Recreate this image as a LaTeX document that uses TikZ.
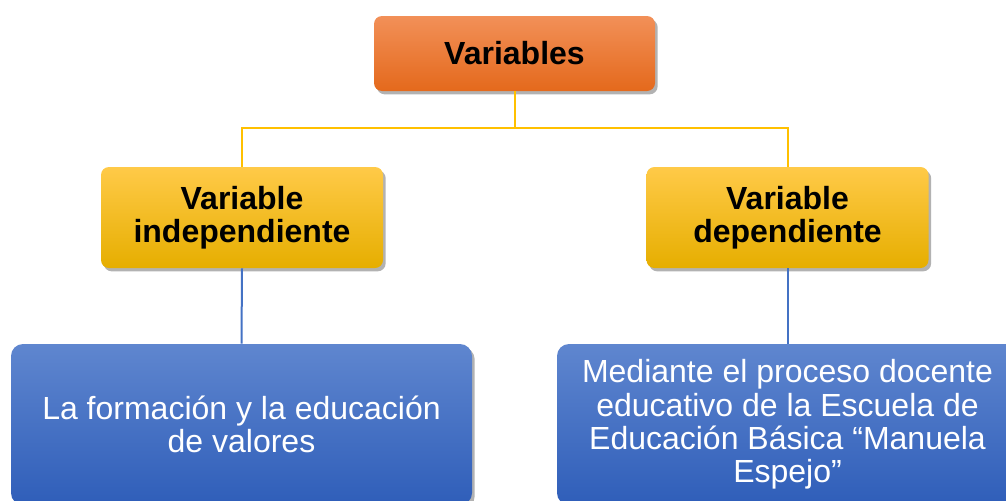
\documentclass[tikz,border=0pt]{standalone}
\usepackage{fontspec}
\setmainfont{Liberation Sans}
\usetikzlibrary{shadows}

\definecolor{orangetop}{HTML}{F29058}
\definecolor{orangebot}{HTML}{E4691C}
\definecolor{yellowtop}{HTML}{FFCA48}
\definecolor{yellowbot}{HTML}{E6AE00}
\definecolor{bluetop}{HTML}{5F86CF}
\definecolor{bluebot}{HTML}{2F5EB9}
\definecolor{yline}{HTML}{FFC000}
\definecolor{bline}{HTML}{4472C4}

\tikzset{
	box/.style={rectangle, rounded corners=6pt, inner sep=0pt, align=center,
		font=\fontsize{24}{25}\selectfont,
		drop shadow={shadow xshift=2pt, shadow yshift=-2.5pt, opacity=0.3, fill=black}},
	topbox/.style={box, top color=orangetop, bottom color=orangebot,
		minimum width=210.75pt, minimum height=56.25pt, font=\fontsize{24}{25}\selectfont\bfseries},
	varbox/.style={box, top color=yellowtop, bottom color=yellowbot,
		minimum width=211.5pt, minimum height=75.75pt, font=\fontsize{24}{25}\selectfont\bfseries},
	descbox/.style={box, rounded corners=9pt, top color=bluetop, bottom color=bluebot, text=white,
		minimum width=345.75pt, minimum height=120.75pt},
	yconn/.style={draw=yline, line width=1.5pt},
	bconn/.style={draw=bline, line width=1.5pt}
}

\begin{document}
\begin{tikzpicture}[x=0.75pt, y=-0.75pt]
	\useasboundingbox (0, 0) rectangle (1006, 500);
	\clip (0, 0) rectangle (1006, 500);
	% top level
	\node (vars) at (514.5, 53.5)		[topbox]	{Variables};
	% the two variables
	\node (indep) at (242, 217.5)		[varbox]	{Variable\\independiente};
	\node (dep) at (787.5, 217.5)		[varbox]	{Variable\\dependiente};
	\coordinate (split) at (514.5, 128);
	\draw[yconn] (vars.south)	--	(split);
	\draw[yconn] (indep.north)	|-	(split)	-|	(dep.north);
	% descriptions, cut by the page border
	\node (indepdesc) at (241.5, 424.5)	[descbox]	{La formación y la educación\\de valores};
	\node (depdesc) at (787.5, 424.5)	[descbox]	{Mediante el proceso docente\\educativo de la Escuela de\\Educación Básica “Manuela\\Espejo”};
	\draw[bconn] (indep.south)	--	(indepdesc.north);
	\draw[bconn] (dep.south)	--	(depdesc.north);
\end{tikzpicture}
\end{document}
